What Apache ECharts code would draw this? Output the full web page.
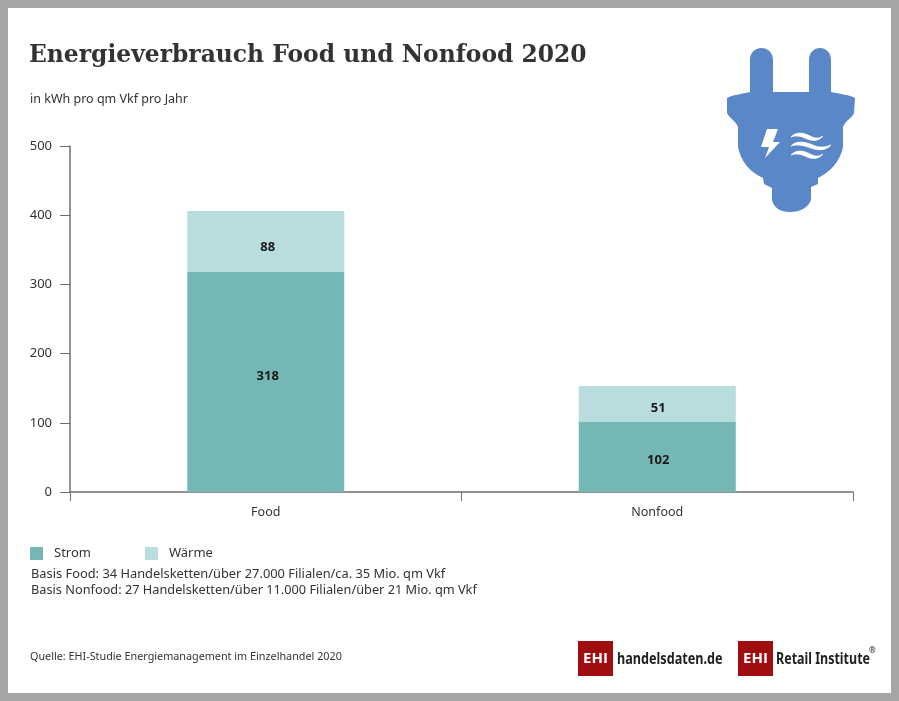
<!DOCTYPE html>
<html>
<head>
<meta charset="utf-8">
<style>
html, body { margin: 0; padding: 0; background: #fff; }
#chart { width: 899px; height: 701px; }
</style>
<script src="https://cdn.jsdelivr.net/npm/echarts@6/dist/echarts.min.js"></script>
</head>
<body>
<div id="chart"></div>
<script>
var categories = ['Food', 'Nonfood'];
var strom = [318, 102];
var waerme = [88, 51];
var yTicks = [0, 100, 200, 300, 400, 500];

var bodyFont = '"Noto Sans", sans-serif';
var textColor = '#333333';
var axisColor = '#6f6f6f';

var plugPath = 'M750 60 C750 44 773 44 773 60 L773 92 L809 92 L809 60 C809 44 831 44 831 60 L831 92 ' +
    'C840 94 850 95 855 98 L854 113 C852 118 846 120 843 127 L843 147 C840 162 830 172 818 178 ' +
    'L818 184 L811 187 L811 200 C808 208 800 212 790 212 C780 212 774 208 772 200 L772 188 L764 184 L763 178 ' +
    'C750 172 741 162 738 147 L738 127 C735 120 729 118 727 113 L727 98 C732 95 742 94 750 92 Z';
var boltPath = 'M767 129 L778 129 L773 142 L780 142 L765 158 L769 147 L761 147 Z';
var wavePath = 'M791 137 C798 130 806 134 812 137 C817 139 820 138 823 136 C818 142 811 141 805 138 C800 136 796 135 791 137 Z ' +
    'M791 146 C798 139 808 143 815 146 C821 148 826 147 831 145 C825 152 815 150 808 147 C802 145 796 144 791 146 Z ' +
    'M791 155 C798 148 806 152 812 155 C817 157 820 156 823 154 C818 160 811 159 805 156 C800 154 796 153 791 155 Z';

// graphic component has no raw path type, so the icon parts are registered as shapes
echarts.graphic.registerShape('plugBody', echarts.graphic.extendPath(plugPath, {}));
echarts.graphic.registerShape('plugBolt', echarts.graphic.extendPath(boltPath, {}));
echarts.graphic.registerShape('plugWaves', echarts.graphic.extendPath(wavePath, {}));

function textEl(x, y, str, size, extra) {
    var style = { x: x, y: y, text: str, fontSize: size, fontFamily: bodyFont, fill: textColor, textVerticalAlign: 'middle' };
    if (extra) {
        for (var k in extra) style[k] = extra[k];
    }
    return { type: 'text', style: style };
}

// logo wordmark, squeezed because no condensed face is installed
function logoText(x, str, scale) {
    return {
        type: 'text',
        x: x,
        y: 659,
        scaleX: scale,
        style: { x: 0, y: 0, text: str, fontSize: 16, fontWeight: 'bold', fontFamily: bodyFont, fill: '#222222', textVerticalAlign: 'middle' }
    };
}

var graphicItems = [
    { type: 'rect', shape: { x: 4, y: 4, width: 891, height: 693 }, style: { fill: 'none', stroke: '#a6a6a6', lineWidth: 8 } },
    textEl(29, 56, 'Energieverbrauch Food und Nonfood 2020', 23.4, { fontFamily: '"DejaVu Serif", serif', fontWeight: 'bold' }),
    textEl(30, 99, 'in kWh pro qm Vkf pro Jahr', 12.5),
    textEl(31, 574, 'Basis Food: 34 Handelsketten/über 27.000 Filialen/ca. 35 Mio. qm Vkf', 12.85),
    textEl(31, 590, 'Basis Nonfood: 27 Handelsketten/über 11.000 Filialen/über 21 Mio. qm Vkf', 12.75),
    textEl(30, 657, 'Quelle: EHI-Studie Energiemanagement im Einzelhandel 2020', 10.8),
    { type: 'plugBody', style: { fill: '#5a87c8' } },
    { type: 'plugBolt', style: { fill: '#ffffff' } },
    { type: 'plugWaves', style: { fill: '#ffffff', stroke: '#ffffff', lineWidth: 0.8 } },
    { type: 'rect', shape: { x: 578, y: 641, width: 35, height: 35 }, style: { fill: '#a00d10' } },
    textEl(595.5, 659, 'EHI', 15, { fill: '#ffffff', fontWeight: 'bold', textAlign: 'center', fontFamily: '"Open Sans", sans-serif' }),
    logoText(617, 'handelsdaten.de', 0.79),
    { type: 'rect', shape: { x: 738, y: 641, width: 35, height: 35 }, style: { fill: '#a00d10' } },
    textEl(755.5, 659, 'EHI', 15, { fill: '#ffffff', fontWeight: 'bold', textAlign: 'center', fontFamily: '"Open Sans", sans-serif' }),
    logoText(776, 'Retail Institute', 0.78),
    textEl(869, 651, '®', 8, { fill: '#222222' })
];

var chart = echarts.init(document.getElementById('chart'), null, { renderer: 'canvas' });

// the value labels do not sit exactly mid-segment in the reference
function labelled(values, offsets) {
    return values.map(function (v, i) {
        return { value: v, label: { offset: offsets[i] } };
    });
}

var labelStyle = {
    show: true,
    position: 'inside',
    color: '#1a1a1a',
    fontWeight: 'bold',
    fontSize: 13,
    fontFamily: bodyFont
};

chart.setOption({
    animation: false,
    backgroundColor: '#ffffff',
    grid: { left: 70, top: 146, width: 783, height: 346 },
    legend: {
        left: 25,
        top: 542,
        icon: 'rect',
        itemWidth: 13,
        itemHeight: 13,
        itemGap: 54,
        selectedMode: false,
        textStyle: { fontFamily: bodyFont, fontSize: 13, color: textColor, padding: [0, 0, 0, 6] },
        data: ['Strom', 'Wärme']
    },
    xAxis: {
        type: 'category',
        data: categories,
        axisLine: { lineStyle: { color: axisColor, width: 1.5 } },
        axisTick: { show: true, length: 9, lineStyle: { color: axisColor } },
        axisLabel: { margin: 14, color: textColor, fontSize: 12.5, fontFamily: bodyFont }
    },
    yAxis: {
        type: 'value',
        min: yTicks[0],
        max: yTicks[yTicks.length - 1],
        interval: 100,
        splitLine: { show: false },
        axisLine: { show: true, lineStyle: { color: axisColor, width: 1.5 } },
        axisTick: { show: true, length: 10, lineStyle: { color: axisColor } },
        axisLabel: { margin: 18, color: textColor, fontSize: 13, fontFamily: bodyFont }
    },
    series: [
        { name: 'Strom', type: 'bar', stack: 'total', barWidth: 157, data: labelled(strom, [[2, -6], [1, 4]]), itemStyle: { color: '#75b7b5' }, label: labelStyle },
        { name: 'Wärme', type: 'bar', stack: 'total', barWidth: 157, data: labelled(waerme, [[2, 6], [1, 5]]), itemStyle: { color: '#b9dcdd' }, label: labelStyle }
    ],
    graphic: { elements: graphicItems }
});
</script>
</body>
</html>
